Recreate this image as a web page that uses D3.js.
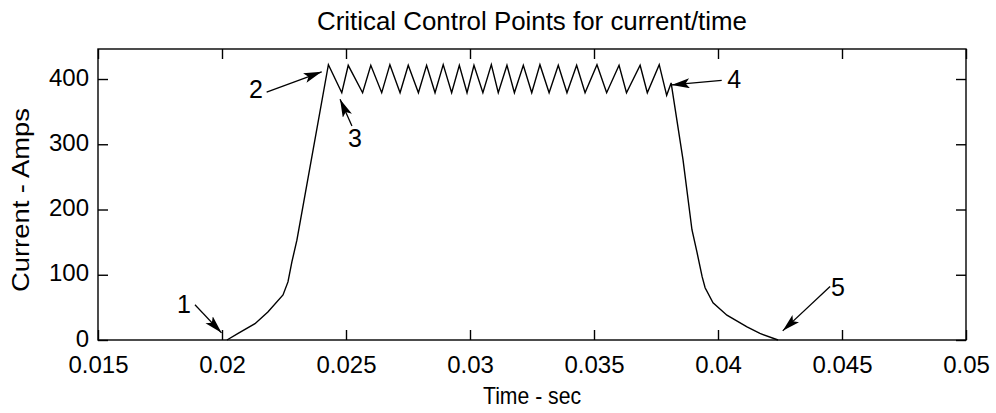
<!DOCTYPE html>
<html>
<head>
<meta charset="utf-8">
<script src="https://cdn.jsdelivr.net/npm/d3@7"></script>
<style>
  body { margin: 0; background: #fff; }
  text { font-family: "Liberation Sans", Arial, sans-serif; fill: #000; }
</style>
</head>
<body>
<svg id="fig" width="996" height="413"></svg>
<script>
// current trace
const timeSec = [
  0.0202, 0.02065, 0.02133, 0.02185, 0.02246, 0.02266, 0.02282, 0.02302, 0.02429,
  0.02483, 0.02509, 0.02567, 0.02600, 0.02644, 0.02677, 0.02718, 0.02751, 0.02792,
  0.02825, 0.02859, 0.02892, 0.02926, 0.02957, 0.02988, 0.03016, 0.03052, 0.03086,
  0.03114, 0.03149, 0.03179, 0.03215, 0.03249, 0.03282, 0.03319, 0.03356, 0.03391,
  0.03430, 0.03464, 0.03512, 0.03551, 0.03601, 0.03631, 0.03686, 0.03715, 0.03763,
  0.03793, 0.03811,
  0.03859, 0.03895, 0.03915, 0.03936, 0.03948, 0.03980, 0.04036, 0.04117, 0.04169, 0.04242
]
const currentAmps = [
  0, 10, 25, 43, 69, 89, 120, 153, 422,
  379, 421, 379, 421, 379, 422, 379, 421, 379,
  421, 379, 422, 379, 421, 379, 421, 379, 422,
  379, 421, 379, 421, 379, 422, 379, 421, 379,
  421, 379, 422, 379, 421, 379, 421, 379, 422,
  375, 394,
  276, 169, 135, 97, 80, 57, 38, 20, 10, 0
]

// axes
const xTicks = [0.015, 0.02, 0.025, 0.03, 0.035, 0.04, 0.045, 0.05]
const xTickLabels = ["0.015", "0.02", "0.025", "0.03", "0.035", "0.04", "0.045", "0.05"]
const yTicks = [0, 100, 200, 300, 400]
const xLimits = [0.015, 0.05]
const yLimits = [0, 446]

// annotations (data coords)
const noteLabels = ["1", "2", "3", "4", "5"]
const noteTextT = [0.01847, 0.02137, 0.02536, 0.04065, 0.04484]
const noteTextA = [55, 385, 310, 400, 81]
const noteTailT = [0.01891, 0.02180, 0.02524, 0.04015, 0.04452]
const noteTailA = [54, 380, 328, 398, 82]
const noteTipT = [0.01998, 0.02402, 0.02476, 0.03813, 0.04261]
const noteTipA = [11, 411, 369, 391, 14]

const Fig = d3.select("#fig")
const padL = 98, padR = 966, padT = 49, padB = 340

const xScale = d3.scaleLinear().domain(xLimits).range([padL, padR])
const yScale = d3.scaleLinear().domain(yLimits).range([padB, padT])

// axes with inward ticks on all four sides
const tickFmt = (d, i) => xTickLabels[i]
Fig.append("g").attr("class", "axis")
    .attr("transform", `translate(0,${padB})`)
    .call(d3.axisBottom(xScale).tickValues(xTicks).tickFormat(tickFmt)
        .tickSizeInner(-10).tickSizeOuter(0).tickPadding(16))
Fig.append("g").attr("class", "axis")
    .attr("transform", `translate(0,${padT})`)
    .call(d3.axisTop(xScale).tickValues(xTicks).tickFormat("")
        .tickSizeInner(-10).tickSizeOuter(0))
Fig.append("g").attr("class", "axis yaxis")
    .attr("transform", `translate(${padL},0)`)
    .call(d3.axisLeft(yScale).tickValues(yTicks).tickFormat(d3.format("d"))
        .tickSizeInner(-10).tickSizeOuter(0).tickPadding(9))
Fig.append("g").attr("class", "axis")
    .attr("transform", `translate(${padR},0)`)
    .call(d3.axisRight(yScale).tickValues(yTicks).tickFormat("")
        .tickSizeInner(-10).tickSizeOuter(0))

Fig.selectAll(".axis path").remove()
Fig.selectAll(".axis line").attr("stroke", "#000").attr("stroke-width", 1.4)
Fig.selectAll(".axis text")
    .style("font-size", "24px")
    .attr("fill", "#000")
Fig.selectAll(".yaxis text").attr("dy", "0.25em")

// box
Fig.append("rect")
    .attr("x", xScale(xLimits[0])).attr("y", yScale(yLimits[1]))
    .attr("width", xScale(xLimits[1]) - xScale(xLimits[0]))
    .attr("height", yScale(yLimits[0]) - yScale(yLimits[1]))
    .attr("fill", "none").attr("stroke", "#000").attr("stroke-width", 1.4)

// trace
const pts = timeSec.map((t, i) => [t, currentAmps[i]])
Fig.append("path")
    .datum(pts)
    .attr("d", d3.line().x(d => xScale(d[0])).y(d => yScale(d[1])))
    .attr("fill", "none")
    .attr("stroke", "#000")
    .attr("stroke-width", 1.4)

// arrow head
Fig.append("defs").append("marker")
    .attr("id", "head")
    .attr("markerUnits", "userSpaceOnUse")
    .attr("markerWidth", 20).attr("markerHeight", 11)
    .attr("refX", 18).attr("refY", 5)
    .attr("orient", "auto")
    .append("path")
    .attr("d", "M0,0 L18,5 L0,10 L4,5 Z")
    .attr("fill", "#000")

const notes = noteLabels.map((s, i) => ({
    s, tx: noteTextT[i], ta: noteTextA[i],
    x0: noteTailT[i], y0: noteTailA[i], x1: noteTipT[i], y1: noteTipA[i]
}))

Fig.selectAll(".arrow")
    .data(notes)
    .join("line")
    .attr("class", "arrow")
    .attr("x1", d => xScale(d.x0)).attr("y1", d => yScale(d.y0))
    .attr("x2", d => xScale(d.x1)).attr("y2", d => yScale(d.y1))
    .attr("stroke", "#000").attr("stroke-width", 1.3)
    .attr("marker-end", "url(#head)")

Fig.selectAll(".note")
    .data(notes)
    .join("text")
    .attr("class", "note")
    .attr("x", d => xScale(d.tx)).attr("y", d => yScale(d.ta))
    .attr("dy", "0.36em")
    .attr("text-anchor", "middle")
    .style("font-size", "25px")
    .text(d => d.s)

// title and labels
Fig.append("text")
    .attr("x", (padL + padR) / 2).attr("y", 30)
    .attr("text-anchor", "middle")
    .style("font-size", "25px")
    .attr("textLength", 430)
    .attr("lengthAdjust", "spacingAndGlyphs")
    .text("Critical Control Points for current/time")

Fig.append("text")
    .attr("x", (padL + padR) / 2).attr("y", 404)
    .attr("text-anchor", "middle")
    .style("font-size", "24px")
    .attr("textLength", 98)
    .attr("lengthAdjust", "spacingAndGlyphs")
    .text("Time - sec")

Fig.append("text")
    .attr("transform", `translate(29,200) rotate(-90)`)
    .attr("text-anchor", "middle")
    .style("font-size", "24px")
    .attr("textLength", 184)
    .attr("lengthAdjust", "spacingAndGlyphs")
    .text("Current - Amps")
</script>
</body>
</html>
